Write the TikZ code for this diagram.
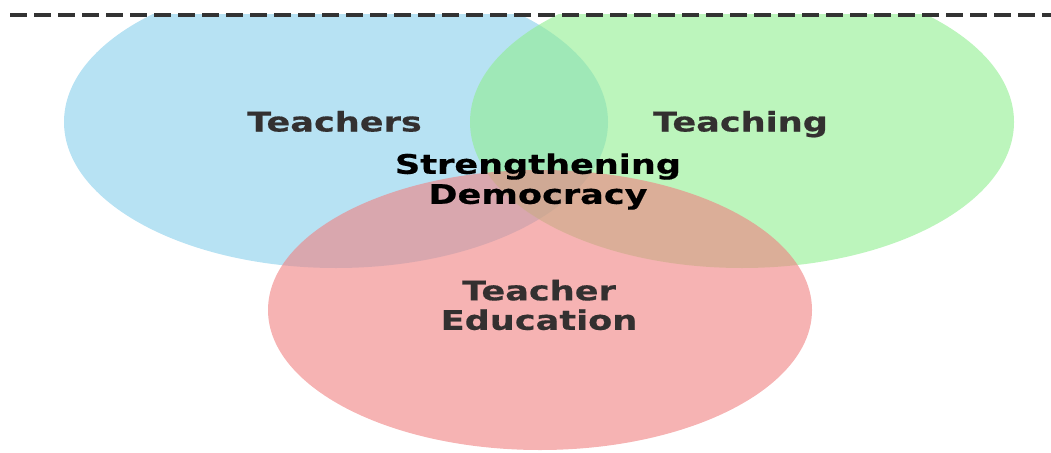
\documentclass[tikz,border=0pt]{standalone}
\usepackage{fontspec}
\newfontfamily\lblfont{DejaVu Sans}[FakeStretch=1.3,FakeBold=0.5]
\definecolor{cblue}{RGB}{135,206,235}
\definecolor{cgreen}{RGB}{144,238,144}
\definecolor{cred}{RGB}{240,128,128}
\definecolor{setgray}{RGB}{51,48,48}
\definecolor{dashgray}{RGB}{51,51,51}
\tikzset{
  setarea/.style={opacity=0.6},
  setlabel/.style={inner sep=0pt, text=setgray, font=\lblfont\bfseries\fontsize{27}{29.5}\selectfont, align=center},
  midlabel/.style={inner sep=0pt, text=black, font=\lblfont\bfseries\fontsize{27}{30}\selectfont, align=center},
  topline/.style={draw=dashgray, line width=3.5pt, dash pattern=on 17pt off 7pt}
}
\begin{document}
\begin{tikzpicture}[x=1pt,y=-1pt]
\useasboundingbox (0,0) rectangle (1051,452);
\begin{scope}
  \clip (0,15) rectangle (1051,452);
  \fill[cblue, setarea] (336,122) ellipse [x radius=272, y radius=146];
  \fill[cgreen, setarea] (742,122) ellipse [x radius=272, y radius=146];
  \fill[cred, setarea] (540,310) ellipse [x radius=272, y radius=140];
\end{scope}
\coordinate (l0) at (10,15);
\coordinate (l1) at (1051,15);
\draw[topline] (l0) -- (l1);
\node[setlabel, anchor=base] (teachers) at (334.5,131.5) {Teachers};
\node[setlabel, anchor=base] (teaching) at (740.5,131.5) {Teaching};
\node[midlabel] (democ) at (538,181.5) {Strengthening\\Democracy};
\node[setlabel] (tedu) at (539,305) {Teacher\\Education};
\end{tikzpicture}
\end{document}
